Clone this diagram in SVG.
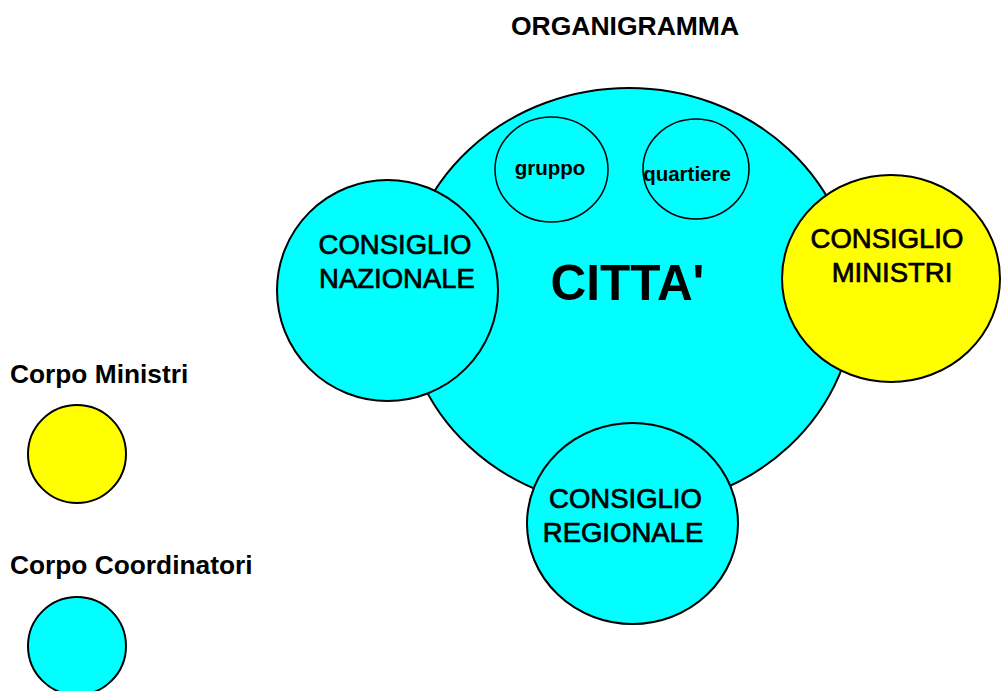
<svg xmlns="http://www.w3.org/2000/svg" width="1001" height="691" viewBox="0 0 1001 691">
<style>
.cy{fill:#00ffff;stroke:#000;stroke-width:2}
.ye{fill:#ffff00;stroke:#000;stroke-width:2}
.thin{fill:none;stroke:#000;stroke-width:1.5}
.t{font-family:"Liberation Sans",Arial,sans-serif;fill:#000}
.b{font-weight:bold}
.lbl{font-size:27.5px;text-anchor:middle;stroke:#000;stroke-width:0.7}
.sm{font-size:20.5px;font-weight:bold;text-anchor:middle}
</style>
<rect width="1001" height="691" fill="#fff"/>
<text class="t b" x="625" y="35" font-size="26.5" text-anchor="middle">ORGANIGRAMMA</text>
<g id="citta">
<ellipse class="cy" cx="629" cy="298" rx="226" ry="210"/>
<text class="t b" x="627.5" y="300" font-size="49.5" text-anchor="middle">CITTA'</text>
</g>
<g id="gruppo">
<ellipse class="thin" cx="551.5" cy="169.5" rx="56.5" ry="52.5"/>
<text class="t sm" x="550" y="175">gruppo</text>
</g>
<g id="quartiere">
<ellipse class="thin" cx="696" cy="169" rx="53" ry="50"/>
<text class="t sm" x="687" y="181">quartiere</text>
</g>
<g id="consiglio-nazionale">
<circle class="cy" cx="387.5" cy="290.5" r="110.5"/>
<text class="t lbl" x="395" y="254">CONSIGLIO</text>
<text class="t lbl" x="397" y="288">NAZIONALE</text>
</g>
<g id="consiglio-ministri">
<ellipse class="ye" cx="891" cy="278.5" rx="109" ry="103.5"/>
<text class="t lbl" x="887" y="248">CONSIGLIO</text>
<text class="t lbl" x="892" y="282">MINISTRI</text>
</g>
<g id="consiglio-regionale">
<ellipse class="cy" cx="632.5" cy="523.5" rx="105.5" ry="100.5"/>
<text class="t lbl" x="625.5" y="508">CONSIGLIO</text>
<text class="t lbl" x="623" y="542">REGIONALE</text>
</g>
<g id="legenda-ministri">
<text class="t b" x="10" y="383" font-size="26.3">Corpo Ministri</text>
<circle class="ye" cx="77" cy="454" r="49"/>
</g>
<g id="legenda-coordinatori">
<text class="t b" x="10" y="574" font-size="26.3">Corpo Coordinatori</text>
<circle class="cy" cx="77" cy="646" r="49"/>
</g>
</svg>
